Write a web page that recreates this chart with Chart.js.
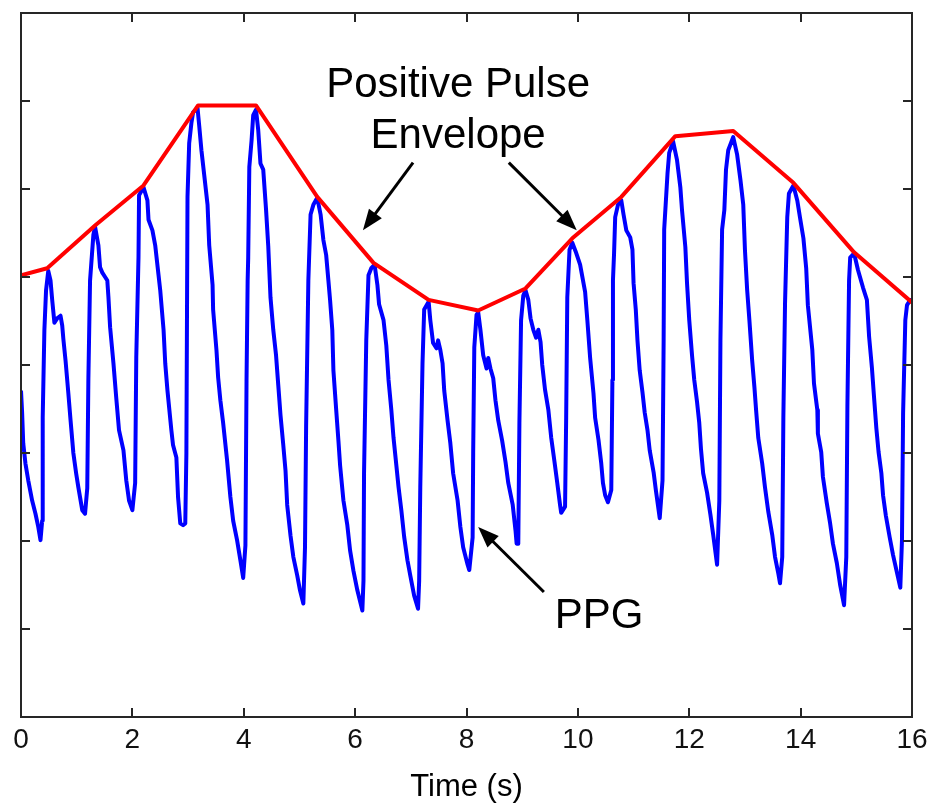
<!DOCTYPE html>
<html>
<head>
<meta charset="utf-8">
<script src="https://cdn.jsdelivr.net/npm/chart.js@4.4.1/dist/chart.umd.min.js"></script>
<style>
  html, body { margin: 0; padding: 0; background: #ffffff; }
  #wrap { width: 927px; height: 806px; }
</style>
</head>
<body>
<div id="wrap"><canvas id="c" width="927" height="806"></canvas></div>
<script>
// ---------- data (time in s, amplitude in arbitrary units) ----------
const xTickValues = [0, 2, 4, 6, 8, 10, 12, 14, 16];

const ppgTime = [
  0, 0.02, 0.04, 0.08, 0.13, 0.20, 0.26, 0.31, 0.35,
  0.38, 0.39, 0.42, 0.45, 0.49, 0.53, 0.56, 0.60, 0.65, 0.71, 0.74, 0.76, 0.80, 0.85, 0.89, 0.94, 0.99, 1.03, 1.10, 1.15,
  1.19, 1.21, 1.24, 1.30, 1.33, 1.39, 1.42, 1.46, 1.51, 1.55, 1.57, 1.60, 1.66, 1.71, 1.76, 1.84, 1.89, 1.94, 2.00,
  2.05, 2.07, 2.11, 2.12, 2.20, 2.27, 2.29, 2.36, 2.41, 2.47, 2.50, 2.56, 2.59, 2.63, 2.70, 2.73, 2.79, 2.82, 2.86, 2.91,
  2.95, 2.97, 2.99, 3.02, 3.06, 3.09, 3.17, 3.20, 3.24, 3.29, 3.35, 3.38, 3.44, 3.45, 3.51, 3.54, 3.58, 3.63, 3.70, 3.76, 3.81, 3.88, 3.94, 3.99,
  4.03, 4.05, 4.07, 4.08, 4.10, 4.14, 4.17, 4.22, 4.26, 4.30, 4.35, 4.40, 4.44, 4.48, 4.53, 4.58, 4.62, 4.66, 4.71, 4.75, 4.78, 4.84, 4.89, 4.96, 5.01, 5.07,
  5.10, 5.12, 5.16, 5.20, 5.25, 5.32, 5.38, 5.43, 5.48, 5.52, 5.55, 5.59, 5.61, 5.66, 5.70, 5.73, 5.79, 5.86, 5.91, 5.97, 6.04, 6.13,
  6.15, 6.16, 6.20, 6.24, 6.29, 6.35, 6.40, 6.43, 6.51, 6.56, 6.60, 6.65, 6.69, 6.74, 6.78, 6.83, 6.88, 6.94, 6.99, 7.06, 7.13,
  7.15, 7.17, 7.21, 7.24, 7.32, 7.35, 7.40, 7.46, 7.49, 7.53, 7.57, 7.60, 7.66, 7.71, 7.76, 7.84, 7.89, 7.94, 8.02, 8.05,
  8.11, 8.12, 8.14, 8.18, 8.21, 8.25, 8.30, 8.36, 8.39, 8.43, 8.48, 8.52, 8.57, 8.64, 8.70, 8.75, 8.83, 8.88, 8.90,
  8.93, 8.95, 8.98, 9.02, 9.06, 9.11, 9.15, 9.20, 9.25, 9.29, 9.33, 9.36, 9.41, 9.47, 9.52, 9.58, 9.63, 9.68, 9.70,
  9.77, 9.79, 9.81, 9.85, 9.90, 9.96, 10.04, 10.13, 10.17, 10.22, 10.28, 10.31, 10.37, 10.42, 10.45, 10.49, 10.54,
  10.60, 10.62, 10.63, 10.65, 10.67, 10.72, 10.78, 10.82, 10.87, 10.94, 10.98, 11.00, 11.04, 11.07, 11.11, 11.16, 11.20, 11.25, 11.29, 11.36, 11.40, 11.47,
  11.52, 11.54, 11.55, 11.61, 11.64, 11.71, 11.78, 11.84, 11.87, 11.93, 11.96, 12.00, 12.05, 12.09, 12.14, 12.18, 12.21, 12.25, 12.32, 12.38, 12.43, 12.50,
  12.54, 12.56, 12.59, 12.63, 12.66, 12.70, 12.79, 12.86, 12.92, 12.97, 13.00, 13.04, 13.08, 13.13, 13.17, 13.20, 13.24, 13.31, 13.36, 13.42, 13.49, 13.54, 13.60, 13.63,
  13.67, 13.69, 13.72, 13.76, 13.79, 13.87, 13.94, 13.99, 14.05, 14.10, 14.13, 14.21, 14.24, 14.30, 14.31, 14.37, 14.40, 14.47, 14.53, 14.58, 14.65, 14.71, 14.78,
  14.82, 14.84, 14.87, 14.89, 14.96, 15.03, 15.12, 15.19, 15.23, 15.28, 15.32, 15.36, 15.40, 15.45, 15.48, 15.53, 15.60, 15.66, 15.73, 15.79,
  15.82, 15.84, 15.88, 15.91, 15.97, 16.00
];

const ppgValue = [
  3.71, 3.46, 3.11, 2.88, 2.69, 2.46, 2.31, 2.16, 2.01,
  2.23, 3.41, 4.40, 4.85, 5.07, 4.96, 4.74, 4.48, 4.53, 4.56, 4.45, 4.30, 4.05, 3.68, 3.37, 3.00, 2.77, 2.61, 2.35, 2.31,
  2.60, 3.85, 4.96, 5.48, 5.57, 5.36, 5.11, 5.05, 5.00, 4.96, 4.77, 4.43, 4.02, 3.63, 3.26, 3.03, 2.69, 2.46, 2.35,
  2.66, 4.09, 5.23, 5.93, 6.02, 5.87, 5.65, 5.53, 5.36, 5.02, 4.85, 4.40, 4.02, 3.71, 3.26, 3.09, 2.95, 2.50, 2.20, 2.18,
  2.20, 3.00, 5.91, 6.52, 6.75, 6.87, 6.92, 6.72, 6.44, 6.16, 5.82, 5.36, 4.91, 4.63, 4.17, 3.86, 3.60, 3.34, 2.92, 2.50, 2.23, 2.01, 1.78, 1.58,
  1.95, 3.82, 4.96, 5.22, 6.25, 6.55, 6.84, 6.90, 6.67, 6.29, 6.22, 5.77, 5.35, 4.77, 4.40, 4.11, 3.77, 3.43, 3.09, 2.80, 2.41, 2.06, 1.82, 1.61, 1.44, 1.29,
  1.93, 3.30, 4.96, 5.71, 5.82, 5.90, 5.71, 5.42, 5.25, 4.96, 4.74, 4.40, 3.94, 3.49, 3.14, 2.86, 2.46, 2.18, 1.89, 1.66, 1.44, 1.21,
  1.55, 2.77, 4.28, 5.02, 5.10, 5.14, 4.91, 4.69, 4.51, 4.22, 3.83, 3.49, 3.17, 2.86, 2.61, 2.35, 2.05, 1.78, 1.61, 1.38, 1.23,
  1.55, 2.61, 4.02, 4.63, 4.72, 4.51, 4.25, 4.19, 4.28, 4.17, 4.02, 3.71, 3.37, 3.11, 2.77, 2.46, 2.16, 1.93, 1.73, 1.67,
  2.04, 3.00, 4.20, 4.57, 4.60, 4.40, 4.11, 3.96, 4.08, 3.96, 3.85, 3.60, 3.37, 3.14, 2.90, 2.66, 2.41, 2.12, 1.97,
  1.97, 3.34, 4.51, 4.79, 4.85, 4.74, 4.53, 4.40, 4.31, 4.40, 4.26, 4.00, 3.72, 3.49, 3.18, 2.90, 2.66, 2.41, 2.32,
  2.39, 3.41, 4.77, 5.31, 5.39, 5.29, 5.14, 4.83, 4.51, 4.08, 3.68, 3.40, 3.15, 2.88, 2.66, 2.52, 2.44,
  2.58, 3.83, 4.96, 5.27, 5.68, 5.82, 5.87, 5.71, 5.53, 5.45, 5.31, 4.93, 4.63, 4.28, 3.94, 3.69, 3.46, 3.26, 3.03, 2.78, 2.58, 2.26,
  2.69, 4.28, 5.54, 6.18, 6.41, 6.54, 6.33, 6.02, 5.76, 5.34, 4.93, 4.51, 4.11, 3.83, 3.58, 3.34, 3.05, 2.77, 2.55, 2.30, 2.07, 1.73,
  2.46, 4.28, 5.54, 5.76, 6.22, 6.44, 6.59, 6.39, 6.10, 5.82, 5.31, 4.85, 4.51, 4.05, 3.75, 3.49, 3.17, 2.88, 2.61, 2.33, 2.07, 1.82, 1.63, 1.52,
  1.82, 3.41, 4.70, 5.68, 5.95, 6.04, 5.87, 5.67, 5.44, 5.10, 4.68, 4.17, 3.79, 3.49, 3.22, 3.01, 2.73, 2.43, 2.20, 1.97, 1.75, 1.50, 1.27,
  1.82, 3.53, 4.96, 5.22, 5.27, 5.08, 4.88, 4.74, 4.32, 3.97, 3.62, 3.28, 3.01, 2.77, 2.52, 2.29, 2.04, 1.84, 1.64, 1.47,
  2.01, 3.45, 4.51, 4.68, 4.74, 4.74
];

const envTime  = [0, 0.47, 1.34, 2.20, 3.18, 4.22, 5.32, 6.33, 7.32, 8.21, 9.06, 9.90, 10.78, 11.75, 12.79, 13.87, 14.96, 16.00];
const envValue = [5.02, 5.10, 5.59, 6.04, 6.95, 6.95, 5.91, 5.16, 4.74, 4.62, 4.87, 5.44, 5.91, 6.60, 6.66, 6.07, 5.28, 4.71];

// annotation anchors in data coordinates
const noteLabels = ["Positive Pulse", "Envelope", "PPG"];
const noteAnchorT = [7.85, 7.85, 10.38];
const noteAnchorV = [7.05, 6.47, 1.01];
const arrowFromT = [7.04, 8.76, 9.39];
const arrowFromV = [6.30, 6.30, 1.42];
const arrowToT   = [6.14, 9.98, 8.21];
const arrowToV   = [5.53, 5.53, 2.16];

const xTitle = "Time (s)";

// ---------- build ----------
const ppgPoints = ppgTime.map((t, i) => ({ x: t, y: ppgValue[i] }));
const envPoints = envTime.map((t, i) => ({ x: t, y: envValue[i] }));

const FONT = '"Liberation Sans", Arial, Helvetica, sans-serif';

function drawArrow(ctx, x1, y1, x2, y2) {
  const ang = Math.atan2(y2 - y1, x2 - x1);
  const headLen = 21, headHalf = 8;
  const bx = x2 - headLen * Math.cos(ang), by = y2 - headLen * Math.sin(ang);
  ctx.beginPath();
  ctx.moveTo(x1, y1);
  ctx.lineTo(bx + 2 * Math.cos(ang), by + 2 * Math.sin(ang));
  ctx.stroke();
  ctx.beginPath();
  ctx.moveTo(x2, y2);
  ctx.lineTo(bx - headHalf * Math.sin(ang), by + headHalf * Math.cos(ang));
  ctx.lineTo(bx + headHalf * Math.sin(ang), by - headHalf * Math.cos(ang));
  ctx.closePath();
  ctx.fill();
}

const framePlugin = {
  id: 'frameAndNotes',
  afterDraw(chart) {
    const { ctx, chartArea: a, scales: { x, y } } = chart;
    ctx.save();
    // frame
    ctx.strokeStyle = '#262626';
    ctx.lineWidth = 2;
    ctx.strokeRect(a.left, a.top, a.right - a.left, a.bottom - a.top);
    // inward ticks on all four sides
    const L = 9;
    ctx.beginPath();
    x.ticks.forEach(tk => {
      const px = Math.round(x.getPixelForValue(tk.value));
      ctx.moveTo(px, a.bottom); ctx.lineTo(px, a.bottom - L);
      ctx.moveTo(px, a.top);    ctx.lineTo(px, a.top + L);
    });
    y.ticks.forEach(tk => {
      const py = Math.round(y.getPixelForValue(tk.value));
      ctx.moveTo(a.left, py);  ctx.lineTo(a.left + L, py);
      ctx.moveTo(a.right, py); ctx.lineTo(a.right - L, py);
    });
    ctx.stroke();

    // annotation texts
    ctx.fillStyle = '#000000';
    ctx.font = '42px ' + FONT;
    ctx.textAlign = 'center';
    ctx.textBaseline = 'alphabetic';
    noteLabels.forEach((txt, i) => {
      ctx.fillText(txt, x.getPixelForValue(noteAnchorT[i]), y.getPixelForValue(noteAnchorV[i]));
    });
    // arrows
    ctx.strokeStyle = '#000000';
    ctx.fillStyle = '#000000';
    ctx.lineWidth = 3;
    arrowFromT.forEach((t, i) => {
      drawArrow(ctx,
        x.getPixelForValue(t), y.getPixelForValue(arrowFromV[i]),
        x.getPixelForValue(arrowToT[i]), y.getPixelForValue(arrowToV[i]));
    });
    ctx.restore();
  }
};

const bgPlugin = {
  id: 'bg',
  beforeDraw(chart) {
    const { ctx, width, height } = chart;
    ctx.save();
    ctx.fillStyle = '#ffffff';
    ctx.fillRect(0, 0, width, height);
    ctx.restore();
  }
};

new Chart(document.getElementById('c'), {
  type: 'line',
  data: {
    datasets: [
      {
        label: 'Positive Pulse Envelope',
        data: envPoints,
        borderColor: '#ff0000',
        borderWidth: 4,
        pointRadius: 0,
        tension: 0,
        fill: false,
        order: 0,
        borderJoinStyle: 'round',
        borderCapStyle: 'round'
      },
      {
        label: 'PPG',
        data: ppgPoints,
        borderColor: '#0000ff',
        borderWidth: 4,
        pointRadius: 0,
        tension: 0,
        fill: false,
        order: 1,
        borderJoinStyle: 'round'
      }
    ]
  },
  options: {
    responsive: false,
    animation: false,
    devicePixelRatio: 1,
    layout: { padding: { left: 0, top: 13, right: 15, bottom: 0 } },
    plugins: {
      legend: { display: false },
      tooltip: { enabled: false },
      title: { display: false }
    },
    scales: {
      x: {
        type: 'linear',
        min: 0,
        max: 16,
        afterBuildTicks: (scale) => { scale.ticks = xTickValues.map(v => ({ value: v })); },
        grid: { display: false, drawTicks: false },
        border: { display: false },
        ticks: {
          color: '#111111',
          font: { family: '"Liberation Sans Narrow", "Liberation Sans", Arial, sans-serif', size: 28 },
          padding: 6,
          maxRotation: 0,
          autoSkip: false
        },
        title: {
          display: true,
          text: xTitle,
          color: '#000000',
          font: { family: FONT, size: 31 },
          padding: { top: 0, bottom: 0 }
        },
        afterFit: (scale) => {
          scale.height = 89;
          scale.paddingLeft = 0;
          scale.paddingRight = 0;
        }
      },
      y: {
        type: 'linear',
        min: 0,
        max: 8,
        ticks: { display: false, stepSize: 1 },
        grid: { display: false, drawTicks: false },
        border: { display: false },
        afterFit: (scale) => { scale.width = 21; }
      }
    }
  },
  plugins: [bgPlugin, framePlugin]
});
</script>
</body>
</html>
